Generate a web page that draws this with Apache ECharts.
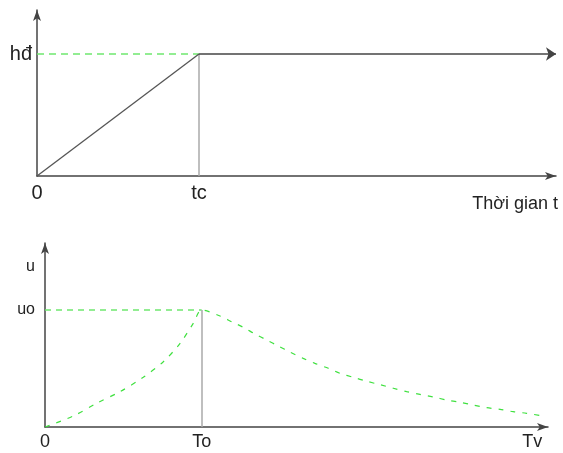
<!DOCTYPE html>
<html><head><meta charset="utf-8">
<script src="https://cdn.jsdelivr.net/npm/echarts@6/dist/echarts.min.js"></script>
<style>html,body{margin:0;padding:0;background:#fff}#c{width:563px;height:453px}</style>
</head><body><div id="c"></div>
<script>
// Upper diagram: the level climbs linearly to hđ at time tc and then stays constant
const levelTimes = [0, 1, 3.204];   // 0, tc, end of the time axis
const levelValues = [0, 1, 1];      // 0, hđ, hđ
const upperXMax = 3.204;
const upperYMax = 1.361;
const upperXTicks = [0, 1];
const upperXTickLabels = ['0', 'tc'];
const upperYTicks = [1];
const upperYTickLabels = ['hđ'];
const upperAxisName = 'Thời gian t';

// Lower diagram: u grows to uo at To, then decays slowly towards Tv
const uTimes = [0, 0.181, 0.330, 0.479, 0.627, 0.755, 0.862, 0.946, 1.0,
  1.117, 1.191, 1.266, 1.340, 1.415, 1.489, 1.563, 1.648, 1.723, 1.808, 1.883,
  1.967, 2.053, 2.138, 2.223, 2.308, 2.393, 2.478, 2.563, 2.648, 2.733, 2.819,
  2.904, 2.988, 3.074, 3.180];
const uValues = [0, 0.094, 0.203, 0.302, 0.425, 0.558, 0.715, 0.886, 1.0,
  0.949, 0.900, 0.852, 0.795, 0.744, 0.692, 0.641, 0.587, 0.544, 0.502, 0.459,
  0.425, 0.391, 0.362, 0.331, 0.302, 0.279, 0.256, 0.231, 0.211, 0.188, 0.165,
  0.151, 0.131, 0.117, 0.094];
const lowerXMax = 3.21;
const lowerYMax = 1.573;
const lowerXTicks = [0, 1, 3.11];
const lowerXTickLabels = ['0', 'To', 'Tv'];
const lowerYTicks = [1, 1.37];
const lowerYTickLabels = ['uo', 'u'];

const INK = '#444';
const GUIDE = '#aaa';
const GREEN = '#6fe86f';
const FONT = '"Liberation Sans", Arial, sans-serif';

function labelFor(ticks, texts) {
  return function (v) {
    for (let i = 0; i < ticks.length; i++) {
      if (Math.abs(v - ticks[i]) < 1e-6) return texts[i];
    }
    return '';
  };
}

function axis(gridIndex, max, ticks, texts, extra) {
  return Object.assign({
    type: 'value', gridIndex: gridIndex, min: 0, max: max,
    axisLine: { show: true, onZero: false, symbol: ['none', 'arrow'], symbolSize: [6, 11],
      lineStyle: { color: INK, width: 1.5 } },
    axisTick: { show: false },
    splitLine: { show: false },
    axisLabel: { customValues: ticks, formatter: labelFor(ticks, texts),
      color: '#222', fontFamily: FONT, fontSize: 18 }
  }, extra || {});
}

function segment(xi, from, to, style, arrow) {
  return {
    type: 'lines', coordinateSystem: 'cartesian2d', xAxisIndex: xi, yAxisIndex: xi,
    polyline: false, silent: true,
    symbol: arrow ? ['none', 'arrow'] : ['none', 'none'], symbolSize: 10,
    lineStyle: Object.assign({ opacity: 1, curveness: 0 }, style),
    data: [{ coords: [from, to] }]
  };
}

const chart = echarts.init(document.getElementById('c'), null, { renderer: 'canvas' });

const upperX = axis(0, upperXMax, upperXTicks, upperXTickLabels, {
  name: upperAxisName, nameLocation: 'end', nameGap: 2,
  nameTextStyle: { align: 'right', verticalAlign: 'top', padding: [19, 0, 0, 0],
    color: '#222', fontFamily: FONT, fontSize: 18 }
});
upperX.axisLabel.margin = 7;
upperX.axisLabel.fontSize = 20;
const upperY = axis(0, upperYMax, upperYTicks, upperYTickLabels);
upperY.axisLabel.margin = 5;
upperY.axisLabel.fontSize = 20;
const lowerX = axis(1, lowerXMax, lowerXTicks, lowerXTickLabels);
lowerX.axisLabel.margin = 6;
const lowerY = axis(1, lowerYMax, lowerYTicks, lowerYTickLabels);
lowerY.axisLabel.margin = 10;
lowerY.axisLabel.fontSize = 16;

chart.setOption({
  animation: false,
  grid: [
    { left: 37, right: 7, top: 10, bottom: 277, containLabel: false },
    { left: 45, right: 15, top: 243, bottom: 26, containLabel: false }
  ],
  xAxis: [upperX, lowerX],
  yAxis: [upperY, lowerY],
  series: [
    // upper diagram
    segment(0, [0, levelValues[1]], [levelTimes[1], levelValues[1]],
      { color: GREEN, width: 1.5, type: [7, 5] }, false),
    segment(0, [levelTimes[1], 0], [levelTimes[1], levelValues[1]],
      { color: GUIDE, width: 1.5 }, false),
    segment(0, [levelTimes[0], levelValues[0]], [levelTimes[1], levelValues[1]],
      { color: '#555', width: 1.3 }, false),
    segment(0, [levelTimes[1], levelValues[1]], [levelTimes[2], levelValues[2]],
      { color: INK, width: 1.5 }, true),
    // lower diagram
    segment(1, [0, uValues[8]], [uTimes[8], uValues[8]],
      { color: GREEN, width: 1.5, type: [6, 5] }, false),
    segment(1, [uTimes[8], 0], [uTimes[8], uValues[8]],
      { color: GUIDE, width: 1.5 }, false),
    {
      type: 'line', xAxisIndex: 1, yAxisIndex: 1, showSymbol: false, silent: true,
      smooth: 0.3,
      lineStyle: { color: '#3fe03f', width: 1.2, type: [5, 7] },
      data: uTimes.map((t, i) => [t, uValues[i]])
    }
  ]
});
</script>
</body></html>
